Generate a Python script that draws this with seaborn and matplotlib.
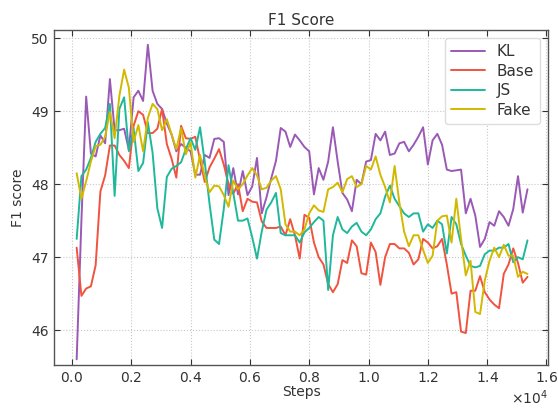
import matplotlib
matplotlib.use("Agg")
import matplotlib.pyplot as plt
import seaborn as sns
import numpy as np
import pandas as pd

# evaluation every 160 steps
steps = np.arange(1, 97) * 160

kl = [45.60, 47.50, 49.20, 48.42, 48.38, 48.67, 48.56, 49.44, 48.74, 48.74,
      48.76, 48.47, 49.19, 49.28, 49.14, 49.91, 49.28, 49.10, 49.03, 48.83,
      48.68, 48.45, 48.55, 48.50, 48.45, 48.13, 48.13, 48.40, 48.36, 48.62,
      48.63, 48.58, 47.85, 48.22, 47.86, 48.18, 47.85, 47.97, 48.36, 47.60,
      47.82, 48.08, 48.32, 48.77, 48.72, 48.51, 48.68, 48.60, 48.51, 48.45,
      47.86, 48.22, 48.06, 48.31, 48.78, 48.31, 47.88, 47.79, 47.63, 48.06,
      48.00, 48.31, 48.33, 48.69, 48.60, 48.72, 48.40, 48.42, 48.56, 48.58,
      48.45, 48.54, 48.65, 48.78, 48.27, 48.60, 48.69, 48.54, 48.20, 48.18,
      48.19, 48.20, 47.60, 47.80, 47.57, 47.14, 47.25, 47.48, 47.43, 47.63,
      47.55, 47.43, 47.66, 48.11, 47.61, 47.93]

base = [47.13, 46.47, 46.57, 46.60, 46.89, 47.90, 48.12, 48.53, 48.53, 48.40,
        48.32, 48.22, 48.80, 49.00, 48.95, 48.70, 48.70, 48.76, 49.03, 48.55,
        48.35, 48.09, 48.80, 48.63, 48.62, 48.65, 48.33, 48.03, 48.23, 48.35,
        48.48, 48.27, 48.00, 47.87, 48.00, 47.63, 47.80, 47.76, 47.75, 47.49,
        47.40, 47.40, 47.40, 47.42, 47.30, 47.52, 47.30, 46.98, 47.58, 47.54,
        47.20, 47.00, 46.90, 46.63, 46.52, 46.63, 46.96, 46.92, 47.23, 47.15,
        46.78, 46.76, 47.20, 47.07, 46.62, 47.00, 47.18, 47.18, 47.12, 47.12,
        47.06, 46.90, 46.97, 47.25, 47.20, 47.12, 47.15, 47.25, 46.90, 46.50,
        46.52, 45.98, 45.96, 46.54, 46.54, 46.74, 46.52, 46.42, 46.35, 46.30,
        46.77, 46.90, 47.12, 46.92, 46.65, 46.73]

js = [47.25, 48.11, 48.20, 48.36, 48.58, 48.69, 48.77, 49.10, 47.84, 49.03,
      49.19, 48.45, 48.76, 48.18, 48.29, 48.85, 48.43, 47.67, 47.40, 48.10,
      48.21, 48.25, 48.30, 48.48, 48.63, 48.47, 48.78, 48.30, 47.73, 47.24,
      47.18, 47.66, 48.26, 47.88, 47.50, 47.50, 47.53, 47.27, 46.98, 47.35,
      47.65, 47.75, 47.88, 47.33, 47.30, 47.30, 47.30, 47.20, 47.34, 47.40,
      47.48, 47.55, 47.50, 46.55, 47.30, 47.55, 47.38, 47.33, 47.42, 47.47,
      47.35, 47.30, 47.38, 47.52, 47.60, 47.83, 47.98, 47.80, 47.70, 47.60,
      47.55, 47.60, 47.60, 47.35, 47.45, 47.40, 47.50, 47.45, 47.05, 47.55,
      47.45, 47.18, 47.02, 46.88, 46.86, 46.88, 47.04, 47.09, 47.09, 47.13,
      47.13, 47.18, 46.93, 47.00, 46.97, 47.23]

fake = [48.15, 47.80, 48.04, 48.31, 48.52, 48.54, 48.65, 48.99, 48.63, 49.21,
        49.57, 49.32, 48.58, 48.81, 48.45, 48.91, 49.10, 49.03, 48.74, 48.89,
        48.68, 48.48, 48.77, 48.41, 48.57, 48.09, 48.40, 48.10, 47.89, 47.98,
        47.97, 47.85, 47.69, 48.05, 47.93, 48.00, 48.12, 48.22, 48.12, 47.93,
        47.95, 48.05, 48.11, 47.93, 47.45, 47.35, 47.35, 47.30, 47.38, 47.60,
        47.71, 47.64, 47.62, 47.93, 47.96, 48.02, 47.89, 48.07, 48.11, 47.96,
        48.00, 48.25, 48.20, 48.38, 48.13, 47.96, 47.75, 48.25, 47.75, 47.35,
        47.15, 47.30, 47.30, 47.10, 46.92, 47.02, 47.50, 47.56, 47.57, 47.20,
        47.80, 47.25, 46.75, 46.95, 46.25, 46.22, 46.68, 46.95, 47.13, 47.00,
        47.17, 47.02, 47.02, 46.73, 46.80, 46.77]

methods = ["KL", "Base", "JS", "Fake"]
colors = {"KL": "#9b59b6", "Base": "#f0533f", "JS": "#1fb89b", "Fake": "#d2b900"}

df = pd.concat([
    pd.DataFrame({"Steps": steps, "F1": vals, "method": name})
    for name, vals in zip(methods, [kl, base, js, fake])
])

sns.set_style("whitegrid", {
    "grid.linestyle": ":",
    "grid.color": "#c8c8c8",
    "axes.edgecolor": "#555555",
    "xtick.direction": "in",
    "ytick.direction": "in",
    "xtick.top": True,
    "ytick.right": True,
    "xtick.bottom": True,
    "ytick.left": True,
    "text.color": "#333333",
    "axes.labelcolor": "#333333",
    "xtick.color": "#333333",
    "ytick.color": "#333333",
})
plt.rcParams["font.family"] = ["DejaVu Sans"]

fig, ax = plt.subplots(figsize=(5.58, 4.08), dpi=100)
fig.subplots_adjust(left=0.097, right=0.982, bottom=0.105, top=0.926)

sns.lineplot(data=df, x="Steps", y="F1", hue="method", hue_order=methods,
             palette=colors, linewidth=1.4, ax=ax)

ax.set_xlim(-600, 16050)
ax.set_ylim(45.52, 50.11)
ax.set_xticks(np.arange(0, 16001, 2000))
ax.set_yticks([46, 47, 48, 49, 50])
ax.ticklabel_format(axis="x", style="sci", scilimits=(0, 0), useMathText=True)
ax.xaxis.get_offset_text().set_fontsize(10)
ax.tick_params(length=4.5, width=0.8, labelsize=10, pad=4)
ax.grid(True, linestyle=":", linewidth=0.8, color="#c8c8c8")
for s in ax.spines.values():
    s.set_linewidth(1.0)

ax.set_title("F1 Score", fontsize=11, pad=4)
ax.set_xlabel("Steps", fontsize=10, labelpad=0)
ax.set_ylabel("F1 score", fontsize=10)

ax.legend(loc="upper right", fontsize=11, frameon=True, framealpha=1,
          edgecolor="#dddddd", handlelength=2.2, borderpad=0.4, labelspacing=0.3)

fig.savefig("out.png", dpi=100)
